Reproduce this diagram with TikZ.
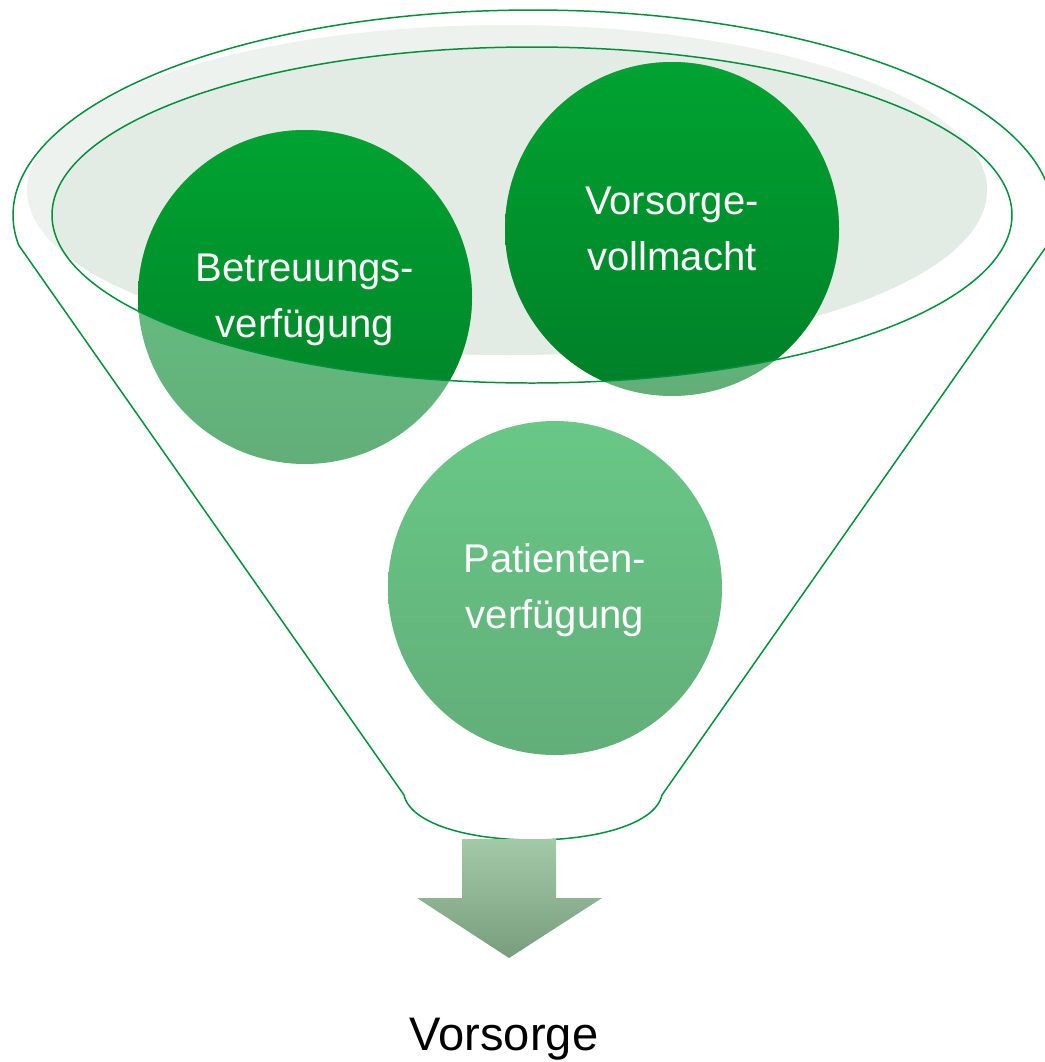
\documentclass[tikz,border=0pt]{standalone}
\usepackage{fontspec}
\setmainfont{Liberation Sans}
\definecolor{funnelline}{HTML}{00913A}
\definecolor{grayouter}{HTML}{EDF2EE}
\definecolor{grayinner}{HTML}{E2EBE4}
\definecolor{darktop}{HTML}{00A331}
\definecolor{darkbot}{HTML}{007F28}
\definecolor{lighttop}{HTML}{68C886}
\definecolor{lightbot}{HTML}{62AE79}
\definecolor{arrtop}{HTML}{A3CAA7}
\definecolor{arrbot}{HTML}{789D7E}
\tikzset{
  circtext/.style={text=white, align=center, font=\fontsize{22.8pt}{31.9pt}\selectfont, inner sep=0pt},
  lightcirc/.style={top color=lighttop, bottom color=lightbot},
  darkcirc/.style={top color=darktop, bottom color=darkbot},
  funnel/.style={draw=funnelline, line width=0.85pt},
  arrowfill/.style={top color=arrtop, bottom color=arrbot},
}
\begin{document}
\begin{tikzpicture}[x=0.02cm,y=-0.02cm]
\useasboundingbox (0,0) rectangle (1045,1062);
\clip (0,0) rectangle (1045,1062);
% funnel mouth background
\fill[grayouter] (507,190) ellipse [x radius=480, y radius=165];
\begin{scope}
  \clip (507,190) ellipse [x radius=480, y radius=165];
  \fill[grayinner] (532,215) ellipse [x radius=480, y radius=168];
\end{scope}
% circle centres
\coordinate (cB) at (305,297);
\coordinate (cV) at (672,229);
\coordinate (cP) at (555,588);
% light (behind funnel front) circles
\shade[lightcirc] (cB) circle [radius=167];
\shade[lightcirc] (cV) circle [radius=167];
\shade[lightcirc] (cP) circle [radius=167];
% dark parts inside mouth
\begin{scope}
  \clip (532,215) ellipse [x radius=480, y radius=168];
  \shade[darkcirc] (cB) circle [radius=167];
  \shade[darkcirc] (cV) circle [radius=167];
\end{scope}
% funnel outline
\coordinate (fl) at (18.6,245);
\coordinate (fr) at (1047.4,245);
\coordinate (bl) at (404,795);
\coordinate (br) at (662,795);
\draw[funnel] (bl) -- (fl)
  -- plot[domain=171.6:368.4, samples=150] ({533+520*cos(\x)},{215+205*sin(\x)})
  -- (br) .. controls (648,855) and (418,855) .. (bl) -- cycle;
\draw[funnel] (532,215) ellipse [x radius=480, y radius=168];
% texts
\node[circtext] (tB) at (305,300) {Betreuungs-\\verfügung};
\node[circtext] (tV) at (672,229) {Vorsorge-\\vollmacht};
\node[circtext] (tP) at (555,590) {Patienten-\\verfügung};
% arrow
\shade[arrowfill] (462,839) -- (556,839) -- (556,898) -- (602,898) -- (509,958) -- (417,898) -- (462,898) -- cycle;
\node[font=\fontsize{26.8pt}{30pt}\selectfont, anchor=base, inner sep=0pt] (result) at (504,1050) {Vorsorge};
\end{tikzpicture}
\end{document}
